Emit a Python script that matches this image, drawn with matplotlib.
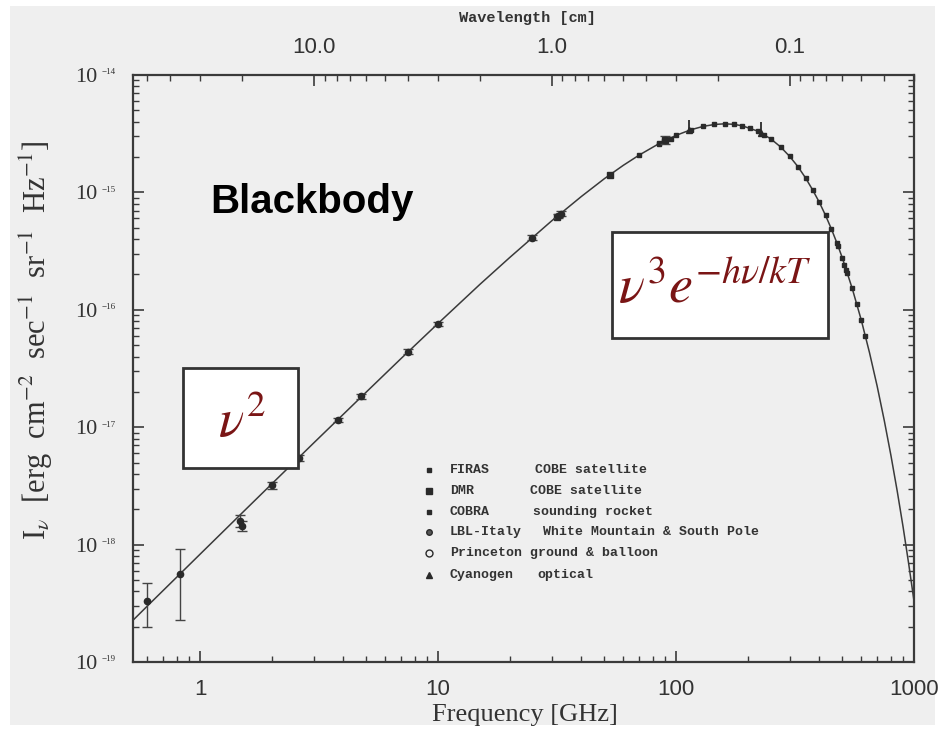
import matplotlib
matplotlib.use("Agg")
import matplotlib.pyplot as plt
from matplotlib.patches import Rectangle
from matplotlib.ticker import FixedLocator, LogLocator, NullFormatter, FixedFormatter
import matplotlib.transforms as mtransforms

plt.rcParams['mathtext.fontset'] = 'stix'

# ---------------- data ----------------
curve_freq = [0.5, 0.6, 0.8, 1, 1.5, 2, 3, 5, 7, 10, 15, 20, 30, 40, 50, 60, 70, 85,
              100, 115, 130, 145, 160, 175, 190, 220, 250, 275, 300, 325, 350, 375,
              400, 425, 450, 475, 500, 550, 600, 650, 700, 750, 800, 850, 900, 950, 1000]
curve_int = [2.08e-19, 3.00e-19, 5.32e-19, 8.30e-19, 1.86e-18, 3.29e-18, 7.34e-18,
             2.00e-17, 3.86e-17, 7.66e-17, 1.65e-16, 2.79e-16, 5.72e-16, 9.23e-16,
             1.31e-15, 1.70e-15, 2.08e-15, 2.61e-15, 3.06e-15, 3.41e-15, 3.65e-15,
             3.79e-15, 3.84e-15, 3.80e-15, 3.69e-15, 3.33e-15, 2.86e-15, 2.44e-15,
             2.03e-15, 1.66e-15, 1.33e-15, 1.05e-15, 8.24e-16, 6.36e-16, 4.86e-16,
             3.68e-16, 2.76e-16, 1.52e-16, 8.21e-17, 4.32e-17, 2.24e-17, 1.14e-17,
             5.74e-18, 2.86e-18, 1.41e-18, 6.85e-19, 3.31e-19]

firas_freq = [70, 85, 100, 115, 130, 145, 160, 175, 190, 205, 220, 235, 250, 275, 300,
              325, 350, 375, 400, 425, 450, 475, 500, 525, 550, 575, 600, 625]
firas_int = [2.08e-15, 2.61e-15, 3.06e-15, 3.41e-15, 3.65e-15, 3.79e-15, 3.84e-15,
             3.80e-15, 3.69e-15, 3.53e-15, 3.33e-15, 3.10e-15, 2.86e-15, 2.44e-15,
             2.03e-15, 1.66e-15, 1.33e-15, 1.05e-15, 8.24e-16, 6.36e-16, 4.86e-16,
             3.68e-16, 2.76e-16, 2.06e-16, 1.52e-16, 1.12e-16, 8.21e-17, 5.97e-17]

dmr_freq = [31.5, 53, 90]
dmr_int = [6.2e-16, 1.42e-15, 2.77e-15]

cobra_freq = [85, 95, 480, 507, 520]
cobra_int = [2.6e-15, 2.85e-15, 3.5e-16, 2.4e-16, 2.2e-16]

lbl_freq = [0.6, 0.82, 1.47, 1.5, 2.0, 2.6, 3.8, 4.75, 7.5, 10.0, 24.8, 32.0, 33.0, 90.0]
lbl_int = [3.3e-19, 5.6e-19, 1.6e-18, 1.45e-18, 3.2e-18, 5.5e-18, 1.15e-17, 1.84e-17,
           4.4e-17, 7.6e-17, 4.1e-16, 6.3e-16, 6.6e-16, 2.8e-15]
lbl_lo = [2.0e-19, 2.3e-19, 1.4e-18, 1.3e-18, 3.0e-18, 5.2e-18, 1.1e-17, 1.75e-17,
          4.2e-17, 7.3e-17, 3.9e-16, 6.0e-16, 6.3e-16, 2.6e-15]
lbl_hi = [4.7e-19, 9.1e-19, 1.8e-18, 1.6e-18, 3.4e-18, 5.8e-18, 1.2e-17, 1.93e-17,
          4.6e-17, 7.9e-17, 4.3e-16, 6.6e-16, 6.9e-16, 3.0e-15]

cn_freq = [113.6, 227.0]
cn_int = [3.38e-15, 3.22e-15]
cn_hi = [4.1e-15, 4.0e-15]

xtick_vals = [1, 10, 100, 1000]
xtick_labels = ['1', '10', '100', '1000']
ytick_exps = [-19, -18, -17, -16, -15, -14]
wl_ticks = [10.0, 1.0, 0.1]
wl_labels = ['10.0', '1.0', '0.1']

legend_names = ['FIRAS', 'DMR', 'COBRA', 'LBL-Italy', 'Princeton', 'Cyanogen']
legend_desc = ['COBE satellite', 'COBE satellite', 'sounding rocket',
               'White Mountain & South Pole', 'ground & balloon', 'optical']

# ---------------- figure ----------------
W, H = 941, 731
fig = plt.figure(figsize=(W / 100, H / 100), dpi=100)
fig.patch.set_facecolor('white')
fig.patches.append(Rectangle((10 / W, 6 / H), (935 - 10) / W, (725 - 6) / H,
                             transform=fig.transFigure, facecolor='#efefef',
                             edgecolor='none', zorder=-10))

L, R, T, B = 133, 914, 75, 662
ax = fig.add_axes([L / W, (H - B) / H, (R - L) / W, (B - T) / H])
ax.set_facecolor('none')
ax.set_xscale('log')
ax.set_yscale('log')
ax.set_xlim(0.522, 1000)
ax.set_ylim(1e-19, 1e-14)

ink = '#2a2a2a'
ax.plot(curve_freq, curve_int, color='#3a3a3a', lw=1.1, zorder=2)

ax.plot(firas_freq, firas_int, 's', ms=2.6, color=ink, zorder=3)
ax.plot(dmr_freq, dmr_int, 's', ms=4.5, color=ink, zorder=3)
ax.plot(cobra_freq, cobra_int, 's', ms=3.0, color=ink, zorder=3)
lerr = [[a - b for a, b in zip(lbl_int, lbl_lo)], [b - a for a, b in zip(lbl_int, lbl_hi)]]
ax.errorbar(lbl_freq, lbl_int, yerr=lerr, fmt='o', ms=4.5, color=ink, ecolor='#444',
            elinewidth=1.0, capsize=3.5, capthick=1.0, zorder=3)
cerr = [[0.0 for _ in cn_int], [b - a for a, b in zip(cn_int, cn_hi)]]
ax.errorbar(cn_freq, cn_int, yerr=cerr, fmt='^', ms=5, color=ink, elinewidth=1.3,
            capsize=0, zorder=3)

for s in ax.spines.values():
    s.set_color('#3a3a3a')
    s.set_linewidth(1.6)

ax.xaxis.set_major_locator(FixedLocator(xtick_vals))
ax.xaxis.set_major_formatter(FixedFormatter(xtick_labels))
ax.xaxis.set_minor_locator(LogLocator(base=10, subs=range(2, 10), numticks=20))
ax.xaxis.set_minor_formatter(NullFormatter())
ax.yaxis.set_major_locator(FixedLocator([10.0 ** e for e in ytick_exps]))
ax.yaxis.set_major_formatter(FixedFormatter(['10' for _ in ytick_exps]))
ax.yaxis.set_minor_locator(LogLocator(base=10, subs=range(2, 10), numticks=20))
ax.yaxis.set_minor_formatter(NullFormatter())
ax.tick_params(which='both', direction='in', colors='#3a3a3a', top=False, right=True)
ax.tick_params(which='major', length=8, width=1.2)
ax.tick_params(which='minor', length=4, width=1.0)
ax.tick_params(axis='x', which='major', labelsize=16, pad=12, labelcolor='#333333')
ax.tick_params(axis='y', which='major', labelsize=16, pad=26, labelcolor='#333333')
for lab in ax.get_yticklabels():
    lab.set_family('Liberation Serif')
for lab in ax.get_xticklabels():
    lab.set_family('Liberation Sans')

# small exponents on y tick labels
tr = mtransforms.blended_transform_factory(ax.transAxes, ax.transData)
for e in ytick_exps:
    t = ax.text(-31 / (R - L), 10.0 ** e, str(e).replace('-', '\u2212'), transform=tr,
                fontsize=6.5, family='Liberation Serif', color='#333333',
                ha='left', va='bottom')
    t.set_transform(tr + mtransforms.ScaledTranslation(0, -1 / 72, fig.dpi_scale_trans))

# top wavelength axis
def f2l(x):
    return 29.98 / x

sec = ax.secondary_xaxis('top', functions=(f2l, f2l))
sec.xaxis.set_major_locator(FixedLocator(wl_ticks))
sec.xaxis.set_major_formatter(FixedFormatter(wl_labels))
sec.xaxis.set_minor_locator(LogLocator(base=10, subs=range(2, 10), numticks=20))
sec.xaxis.set_minor_formatter(NullFormatter())
sec.tick_params(which='both', direction='in', colors='#3a3a3a')
sec.tick_params(which='major', length=8, width=1.2, labelsize=16, pad=12,
                labelcolor='#333333')
sec.tick_params(which='minor', length=4, width=1.0)
sec.spines['top'].set_visible(False)
for lab in sec.xaxis.get_ticklabels():
    lab.set_family('Liberation Sans')

ax.set_xlabel('Frequency [GHz]', family='Liberation Serif', fontsize=19, color='#333333')
ax.xaxis.set_label_coords((525 - L) / (R - L), (B - 704) / (B - T))
ax.set_ylabel(r'I$_\nu$  [erg  cm$^{-2}$  sec$^{-1}$  sr$^{-1}$  Hz$^{-1}$]',
              family='Liberation Serif', fontsize=22, color='#333333')
ax.yaxis.set_label_coords(-(L - 36) / (R - L), (B - 340) / (B - T))
ax.yaxis.label.set_va('center')

fig.text(527 / W, 1 - 18 / H, 'Wavelength [cm]', family='Liberation Mono',
         weight='bold', fontsize=11, color='#333333', ha='center', va='center')

# Blackbody title
fig.text(210 / W, 1 - 213 / H, 'Blackbody', family='Liberation Sans', weight='bold',
         fontsize=29, color='black', ha='left', va='baseline')

# legend block
ys = [470, 491, 512, 532, 553, 575]
col2 = [535, 530, 533, 543, 530, 537]
marks = [('s', 2.2, ink), ('s', 4.0, ink), ('s', 2.5, ink), ('o', 4.0, '#555555'),
         ('o', 5.0, 'none'), ('^', 4.0, ink)]
for yp, name, desc, c2, (m, ms, fc) in zip(ys, legend_names, legend_desc, col2, marks):
    ax.plot([(429 - L) / (R - L)], [(B - yp) / (B - T)], m, ms=ms, mfc=fc, mec=ink,
            transform=ax.transAxes, clip_on=False)
    ax.text((450 - L) / (R - L), (B - yp) / (B - T), name, transform=ax.transAxes,
            family='Liberation Mono', weight='bold', fontsize=9.5, color='#333333',
            va='center', ha='left')
    ax.text((c2 - L) / (R - L), (B - yp) / (B - T), desc, transform=ax.transAxes,
            family='Liberation Mono', weight='bold', fontsize=9.5, color='#333333',
            va='center', ha='left')

# formula boxes
red = '#7a1515'
for (x0, y0, x1, y1) in [(183, 368, 298, 468), (612, 232, 828, 338)]:
    fig.patches.append(Rectangle((x0 / W, 1 - y1 / H), (x1 - x0) / W, (y1 - y0) / H,
                                 transform=fig.transFigure, facecolor='white',
                                 edgecolor='#333333', lw=2.0, zorder=5))
fig.text(242 / W, 1 - 422 / H, r'$\nu^2$', fontsize=38, color=red, ha='center',
         va='center', zorder=6)
fig.text(715 / W, 1 - 288 / H, r'$\nu^3 e^{-h\nu/kT}$', fontsize=39, color=red,
         ha='center', va='center', zorder=6)

fig.savefig('out.png', dpi=100)
